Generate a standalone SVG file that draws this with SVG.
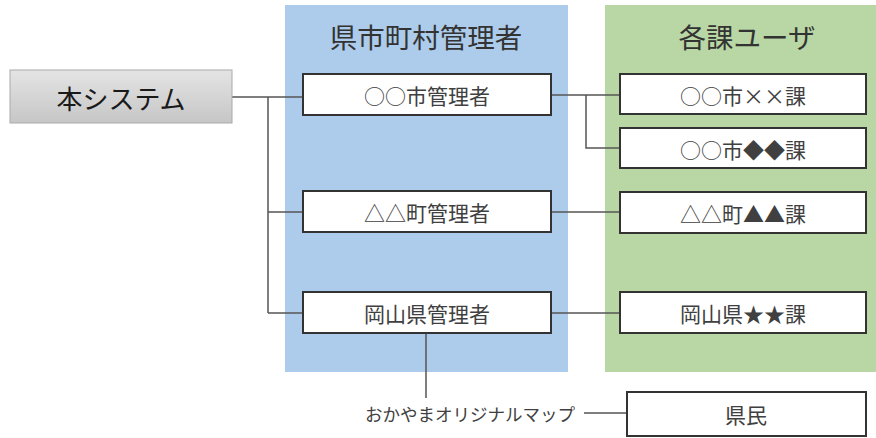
<svg xmlns="http://www.w3.org/2000/svg" width="876" height="438" viewBox="0 0 876 438">
<defs>
<linearGradient id="g" x1="0" y1="0" x2="0" y2="1"><stop offset="0" stop-color="#e4e4e4"/><stop offset="1" stop-color="#c6c6c6"/></linearGradient>
<style>
text{font-family:"Noto Sans CJK JP","Noto Sans",sans-serif;text-anchor:middle;dominant-baseline:central;fill:#404040}
.b{fill:#fff;stroke:#333;stroke-width:2}
.t{font-size:21px}
.h{font-size:27.5px;fill:#333}
.c{fill:none;stroke:#555;stroke-width:1.5}
</style>
</defs>
<rect width="876" height="438" fill="#fff"/>
<rect x="285" y="5" width="283" height="367" fill="#adcbea"/>
<rect x="605" y="5" width="271" height="367" fill="#b9d7a5"/>
<text class="h" x="426" y="36">県市町村管理者</text>
<text class="h" x="747" y="36">各課ユーザ</text>
<g id="connectors" class="c">
<path d="M232,97H303M268,97V313M268,212H303M268,313H303"/>
<path d="M551,95H620M586,95V148H620M551,212H620M551,313H620"/>
<path d="M426,333V398M584,413H627"/>
</g>
<g id="system"><rect x="10" y="70" width="222" height="53" fill="url(#g)" stroke="#aaa" stroke-width="1"/><text x="121" y="97" style="font-size:26px;fill:#1a1a1a">本システム</text></g>
<g id="admin1"><rect class="b" x="303" y="74" width="248" height="41"/><text class="t" x="427" y="95">○○市管理者</text></g>
<g id="admin2"><rect class="b" x="303" y="191" width="248" height="41"/><text class="t" x="427" y="212">△△町管理者</text></g>
<g id="admin3"><rect class="b" x="303" y="292" width="248" height="41"/><text class="t" x="427" y="313">岡山県管理者</text></g>
<g id="user1"><rect class="b" x="620" y="74" width="246" height="40"/><text class="t" x="743" y="95">○○市××課</text></g>
<g id="user2"><rect class="b" x="620" y="128" width="246" height="40"/><text class="t" x="743" y="149">○○市◆◆課</text></g>
<g id="user3"><rect class="b" x="620" y="192" width="246" height="41"/><text class="t" x="743" y="213">△△町▲▲課</text></g>
<g id="user4"><rect class="b" x="620" y="292" width="246" height="41"/><text class="t" x="743" y="313">岡山県★★課</text></g>
<g id="map"><text x="470" y="413" style="font-size:17.5px">おかやまオリジナルマップ</text></g>
<g id="citizen"><rect class="b" x="627" y="392" width="239" height="44"/><text class="t" x="746" y="414">県民</text></g>
</svg>
